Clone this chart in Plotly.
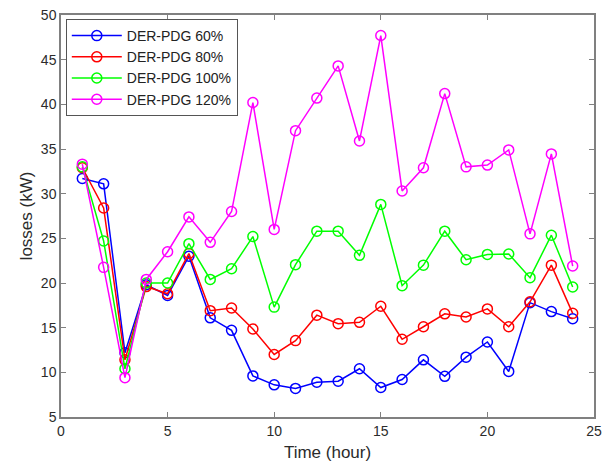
import plotly.graph_objects as go

hours = list(range(1, 25))
der60 = [31.7, 31.1, 12.2, 19.8, 18.6, 23.0, 16.1, 14.7, 9.6, 8.6, 8.2, 8.9,
         9.0, 10.4, 8.3, 9.2, 11.4, 9.55, 11.7, 13.4, 10.1, 17.8, 16.8, 16.0]
der80 = [32.9, 28.4, 11.4, 19.6, 18.8, 23.3, 16.9, 17.2, 14.85, 12.0, 13.55, 16.4,
         15.45, 15.6, 17.4, 13.7, 15.1, 16.55, 16.2, 17.1, 15.1, 17.9, 22.0, 16.6]
der100 = [33.0, 24.7, 10.4, 20.0, 20.0, 24.4, 20.4, 21.6, 25.2, 17.3, 22.05, 25.8,
          25.8, 23.1, 28.8, 19.7, 22.0, 25.8, 22.6, 23.2, 23.25, 20.6, 25.35, 19.55]
der120 = [33.3, 21.75, 9.4, 20.4, 23.5, 27.4, 24.55, 28.0, 40.2, 26.0, 37.05, 40.7,
          44.3, 35.9, 47.7, 30.3, 32.9, 41.2, 33.0, 33.2, 34.9, 25.5, 34.45, 21.9]

series = [("DER-PDG 60%", der60, "#0000FF"),
          ("DER-PDG 80%", der80, "#FF0000"),
          ("DER-PDG 100%", der100, "#00FF00"),
          ("DER-PDG 120%", der120, "#FF00FF")]

fig = go.Figure()
for name, vals, col in series:
    fig.add_trace(go.Scatter(
        x=hours, y=vals, name=name, mode="lines+markers",
        line=dict(color=col, width=1.5),
        marker=dict(symbol="circle-open", size=10, color=col, line=dict(width=1.5, color=col)),
    ))

axis_common = dict(
    showline=True, linecolor="#808080", linewidth=1.5, mirror="ticks",
    ticks="inside", ticklen=5, tickcolor="#808080", tickwidth=1,
    showgrid=False, zeroline=False, automargin=False,
    tickfont=dict(family="Liberation Sans, Arial", size=14, color="#2b2b2b"),
)

fig.update_layout(
    width=605, height=466,
    margin=dict(l=61, r=11, t=15, b=49),
    paper_bgcolor="white", plot_bgcolor="white",
    font=dict(family="Liberation Sans, Arial", size=14, color="#2b2b2b"),
    xaxis=dict(range=[0, 25], tickvals=[0, 5, 10, 15, 20, 25],
               title=dict(text="Time (hour)", font=dict(size=17, color="#2b2b2b"), standoff=9),
               **axis_common),
    yaxis=dict(range=[5, 50], tickvals=[5, 10, 15, 20, 25, 30, 35, 40, 45, 50],
               title=dict(text="losses (kW)", font=dict(size=17, color="#2b2b2b"), standoff=4),
               **axis_common),
    legend=dict(x=0.009, y=0.99, xanchor="left", yanchor="top",
                bgcolor="white", bordercolor="#555555", borderwidth=1,
                font=dict(size=14, color="#222222"), itemwidth=50,
                tracegroupgap=0),
    showlegend=True,
)

fig.write_html("out.html")
